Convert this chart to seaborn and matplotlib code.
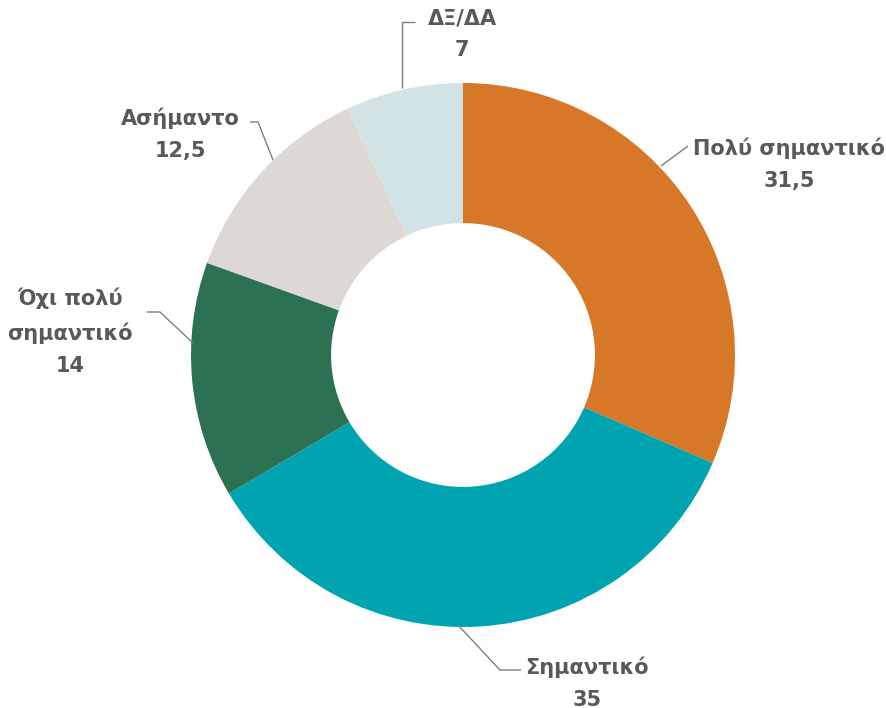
import numpy as np
import matplotlib
matplotlib.use("Agg")
import matplotlib.pyplot as plt
import seaborn as sns

categories = ["Πολύ σημαντικό", "Σημαντικό", "Όχι πολύ\nσημαντικό", "Ασήμαντο", "ΔΞ/ΔΑ"]
values = [31.5, 35, 14, 12.5, 7]
value_labels = ["31,5", "35", "14", "12,5", "7"]
colors = ["#D67828", "#00A3B0", "#2C7151", "#DDD8D4", "#D2E3E6"]

sns.set_theme(style="white")
plt.rcParams['font.family'] = ['DejaVu Sans']

W, H = 886, 708
fig = plt.figure(figsize=(W / 100, H / 100), dpi=100)
ax = fig.add_axes([0, 0, 1, 1])
cx, cy, R = 463, 355, 272

ax.pie(values, colors=colors, startangle=90, counterclock=False, radius=1.0,
       wedgeprops=dict(width=0.515, linewidth=0), center=(0, 0))
ax.set_xlim(-cx / R, (W - cx) / R)
ax.set_ylim(-(H - cy) / R, cy / R)
ax.set_aspect("equal")
ax.axis("off")


def p(px, py):
    return ((px - cx) / R, (cy - py) / R)


# leader line paths (pixel coords) and text anchors (pixel)
leaders = [
    [(661, 166), (688, 146)],
    [(458, 625), (500, 670), (521, 670)],
    [(193, 343), (160, 312), (147, 312)],
    [(273, 160), (258, 122), (250, 122)],
    [(402, 88), (402, 22), (415, 22)],
]
text_pos = [(789, 164), (587, 683), (70, 332), (180, 134), (462, 34)]

for cat, vl, path, tp in zip(categories, value_labels, leaders, text_pos):
    pts = np.array([p(*q) for q in path])
    ax.plot(pts[:, 0], pts[:, 1], color="#7F7F7F", lw=1.0, solid_capstyle="butt")
    tx, ty = p(*tp)
    ax.text(tx, ty, f"{cat}\n{vl}", ha="center", va="center", fontsize=15,
            fontweight="bold", color="#595959", linespacing=1.75)

fig.savefig("out.png", dpi=100)
